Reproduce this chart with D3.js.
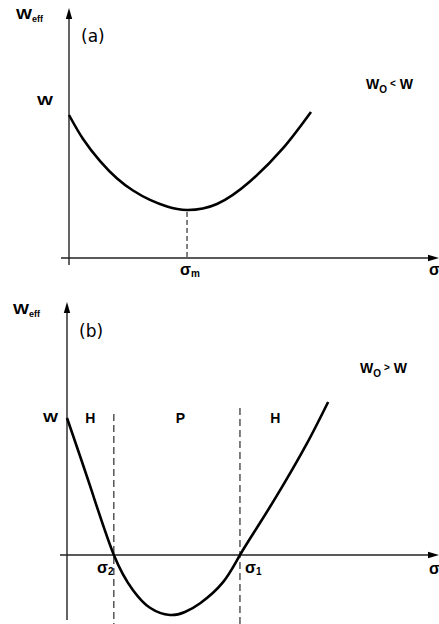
<!DOCTYPE html>
<html>
<head>
<meta charset="utf-8">
<script src="https://cdn.jsdelivr.net/npm/d3@7"></script>
<style>
  body { margin: 0; background: #fff; }
  svg { display: block; }
  .lbl { font-family: "Liberation Sans", Arial, sans-serif; font-weight: bold; fill: #000; }
  .tag { font-family: "DejaVu Sans", sans-serif; fill: #000; }
</style>
</head>
<body>
<svg id="chart" width="439" height="624"></svg>
<script>
// panel (a): W0 < W
var sigmaA = [0, 3.8, 8.4, 13.0, 17.3, 21.9, 26.5, 31.9, 40.0, 48.9, 57.8, 65.4];
var weffA  = [1.0, 0.832, 0.678, 0.556, 0.472, 0.406, 0.360, 0.336, 0.378, 0.535, 0.766, 1.021];
var sigmaM = 31.9;

// panel (b): W0 > W
var sigmaB = [0, 6.2, 12.6, 17.7, 22.3, 27.7, 31.7, 35.8, 41.9, 46.5, 51.9, 58.1, 64.5, 70.2];
var weffB  = [1.0, 0.504, 0, -0.255, -0.385, -0.438, -0.416, -0.352, -0.200, 0, 0.235, 0.510, 0.814, 1.117];
var sigma2 = 12.6;
var sigma1 = 46.5;
var regionLabels = ["H", "P", "H"];
var regionCenters = [6.3, 30.5, 56.0];

var svg = d3.select("#chart");

function arrowHead(g, x, y, dir) {
    var p;
    if (dir === "up") p = [[x, y], [x - 3.2, y + 11], [x + 3.2, y + 11]];
    else p = [[x, y], [x - 11, y - 3.2], [x - 11, y + 3.2]];
    g.append("path").attr("d", "M" + p.join("L") + "Z").attr("fill", "#000");
}

function drawAxes(g, x, y, yTop, yBottom, xLeft) {
    // y axis
    g.append("line")
        .attr("x1", x(0)).attr("x2", x(0))
        .attr("y1", yBottom).attr("y2", yTop + 6)
        .attr("stroke", "#222").attr("stroke-width", 1.4);
    arrowHead(g, x(0), yTop, "up");
    // x axis
    g.append("line")
        .attr("x1", xLeft).attr("x2", x(100) - 6)
        .attr("y1", y(0)).attr("y2", y(0))
        .attr("stroke", "#222").attr("stroke-width", 1.4);
    arrowHead(g, x(100), y(0), "right");
}

function weffLabel(g, px, py) {
    var t = g.append("text").attr("class", "lbl").attr("x", px).attr("y", py);
    t.append("tspan").attr("font-size", 14).attr("textLength", 16).attr("lengthAdjust", "spacingAndGlyphs").text("W");
    t.append("tspan").attr("font-size", 9).attr("dy", 3).text("eff");
}

function ineqLabel(g, px, py, op) {
    var t = g.append("text").attr("class", "lbl").attr("x", px).attr("y", py).attr("font-size", 14);
    t.append("tspan").text("W");
    t.append("tspan").attr("font-size", 10).attr("dy", 4).text("O");
    t.append("tspan").attr("font-size", 10).attr("dy", -6).attr("dx", 3).text(op);
    t.append("tspan").attr("dy", 2).attr("dx", 4).text("W");
}

var line = d3.line().curve(d3.curveNatural);

// ---------- Panel (a)
var xA = d3.scaleLinear().domain([0, 100]).range([69, 439]);
var yA = d3.scaleLinear().domain([0, 1]).range([258, 115]);
var gA = svg.append("g");

drawAxes(gA, xA, yA, 8, 265, 61);

gA.append("path")
    .attr("d", line(sigmaA.map(function(s, i) { return [xA(s), yA(weffA[i])]; })))
    .attr("fill", "none").attr("stroke", "#000").attr("stroke-width", 2.6);

var iMin = sigmaA.indexOf(sigmaM);
gA.append("line")
    .attr("x1", xA(sigmaM)).attr("x2", xA(sigmaM))
    .attr("y1", yA(weffA[iMin]) + 2).attr("y2", yA(0))
    .attr("stroke", "#000").attr("stroke-width", 1).attr("stroke-dasharray", "5,3");

weffLabel(gA, 16, 19);
gA.append("text").attr("class", "tag").attr("x", 81).attr("y", 42).attr("font-size", 17).text("(a)");
gA.append("text").attr("class", "lbl").attr("x", 37).attr("y", 105).attr("font-size", 13)
    .attr("textLength", 16).attr("lengthAdjust", "spacingAndGlyphs").text("W");

ineqLabel(gA, 366, 89, "<");

var sm = gA.append("text").attr("class", "lbl").attr("x", xA(sigmaM) - 7).attr("y", 275).attr("font-size", 16);
sm.append("tspan").text("σ");
sm.append("tspan").attr("font-size", 10).attr("dy", 2).text("m");
gA.append("text").attr("class", "lbl").attr("x", 429).attr("y", 275).attr("font-size", 16).text("σ");

// ---------- Panel (b)
var xB = d3.scaleLinear().domain([0, 100]).range([67, 439]);
var yB = d3.scaleLinear().domain([0, 1]).range([555, 418]);
var gB = svg.append("g");

drawAxes(gB, xB, yB, 302, 620, 60);

gB.append("line")
    .attr("x1", xB(sigma2)).attr("x2", xB(sigma2))
    .attr("y1", 414).attr("y2", 624)
    .attr("stroke", "#000").attr("stroke-width", 1).attr("stroke-dasharray", "7,4");
gB.append("line")
    .attr("x1", xB(sigma1)).attr("x2", xB(sigma1))
    .attr("y1", 408).attr("y2", 624)
    .attr("stroke", "#000").attr("stroke-width", 1).attr("stroke-dasharray", "7,4");

gB.append("path")
    .attr("d", line(sigmaB.map(function(s, i) { return [xB(s), yB(weffB[i])]; })))
    .attr("fill", "none").attr("stroke", "#000").attr("stroke-width", 2.6);

weffLabel(gB, 13, 314);
gB.append("text").attr("class", "tag").attr("x", 79).attr("y", 337).attr("font-size", 17).text("(b)");
gB.append("text").attr("class", "lbl").attr("x", 43).attr("y", 422).attr("font-size", 13)
    .attr("textLength", 15).attr("lengthAdjust", "spacingAndGlyphs").text("W");

regionLabels.forEach(function(r, i) {
    gB.append("text").attr("class", "lbl").attr("x", xB(regionCenters[i])).attr("y", 423)
        .attr("text-anchor", "middle").attr("font-size", 14).text(r);
});

ineqLabel(gB, 360, 373, ">");

var s2 = gB.append("text").attr("class", "lbl").attr("x", 97).attr("y", 573).attr("font-size", 16);
s2.append("tspan").text("σ");
s2.append("tspan").attr("font-size", 10).attr("dy", 2).text("2");
var s1 = gB.append("text").attr("class", "lbl").attr("x", 245).attr("y", 573).attr("font-size", 16);
s1.append("tspan").text("σ");
s1.append("tspan").attr("font-size", 10).attr("dy", 2).text("1");
gB.append("text").attr("class", "lbl").attr("x", 429).attr("y", 574).attr("font-size", 16).text("σ");
</script>
</body>
</html>
